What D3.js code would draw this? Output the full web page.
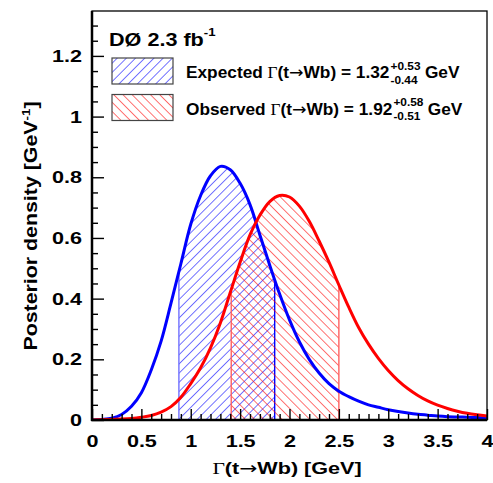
<!DOCTYPE html>
<html>
<head>
<meta charset="utf-8">
<script src="https://cdn.jsdelivr.net/npm/d3@7"></script>
<style>
  body { margin: 0; background: #fff; }
  text { font-family: "Liberation Sans", Arial, sans-serif; font-weight: bold; }
  .sym { font-family: "Liberation Serif", serif; font-weight: normal; }
  .arr { font-family: "DejaVu Sans", sans-serif; font-weight: normal; }
</style>
</head>
<body>
<svg id="chart" width="493" height="483"></svg>
<script>
// width values, GeV
const gammaGrid = [0, 0.1, 0.2, 0.3, 0.4, 0.5, 0.6, 0.7, 0.8, 0.9, 1.0,
  1.1, 1.2, 1.3, 1.4, 1.5, 1.6, 1.7, 1.8, 1.9, 2.0,
  2.1, 2.2, 2.3, 2.4, 2.5, 2.6, 2.7, 2.8, 2.9, 3.0,
  3.1, 3.2, 3.3, 3.4, 3.5, 3.6, 3.7, 3.8, 3.9, 4.0];
const expectedDensity = [0, 0.002, 0.006, 0.018, 0.045, 0.09, 0.165, 0.26, 0.385, 0.515, 0.645,
  0.74, 0.805, 0.836, 0.825, 0.78, 0.71, 0.61, 0.51, 0.415, 0.33,
  0.258, 0.2, 0.155, 0.12, 0.095, 0.077, 0.062, 0.05, 0.042, 0.034,
  0.028, 0.023, 0.019, 0.016, 0.013, 0.011, 0.01, 0.009, 0.008, 0.007];
const observedDensity = [0, 0.001, 0.002, 0.003, 0.005, 0.009, 0.015, 0.026, 0.044, 0.075, 0.12,
  0.172, 0.238, 0.32, 0.42, 0.52, 0.61, 0.675, 0.72, 0.74, 0.735,
  0.705, 0.655, 0.59, 0.52, 0.445, 0.372, 0.305, 0.25, 0.203, 0.163,
  0.13, 0.103, 0.081, 0.063, 0.049, 0.038, 0.029, 0.022, 0.017, 0.013];
const expectedBand = [0.88, 1.85];
const observedBand = [1.41, 2.50];
const xTicks = [0, 0.5, 1, 1.5, 2, 2.5, 3, 3.5, 4];
const yTicks = [0, 0.2, 0.4, 0.6, 0.8, 1, 1.2];
const legendRows = [
  { label: "Expected", value: "1.32", up: "+0.53", down: "-0.44" },
  { label: "Observed", value: "1.92", up: "+0.58", down: "-0.51" }
];

const svg = d3.select("#chart");
const pL = 92, pR = 487, pT = 11, pB = 420;
const stretch = 1.27; // text in the picture is drawn wider than the font

const x = d3.scaleLinear().domain([0, 4]).range([pL, pR]);
const y = d3.scaleLinear().domain([0, 1.348]).range([pB, pT]);

const defs = svg.append("defs");
function hatch(id, color, angle) {
  const p = defs.append("pattern")
    .attr("id", id)
    .attr("patternUnits", "userSpaceOnUse")
    .attr("width", 6.5).attr("height", 6.5)
    .attr("patternTransform", "rotate(" + angle + ")");
  p.append("line")
    .attr("x1", 0).attr("y1", -1).attr("x2", 0).attr("y2", 8)
    .attr("stroke", color).attr("stroke-width", 1.1);
}
hatch("hatchBlue", "#0000ff", 45);
hatch("hatchRed", "#ff0000", -45);

defs.append("clipPath").attr("id", "plotClip")
  .append("rect").attr("x", pL).attr("y", pT)
  .attr("width", pR - pL).attr("height", pB - pT);

const expData = gammaGrid.map((g, i) => [g, expectedDensity[i]]);
const obsData = gammaGrid.map((g, i) => [g, observedDensity[i]]);

const curve = d3.curveCatmullRom.alpha(0.5);
const area = d3.area()
  .x(d => x(d[0])).y0(y(0)).y1(d => y(d[1]))
  .curve(curve);
const line = d3.line()
  .x(d => x(d[0])).y(d => y(d[1]))
  .curve(curve);

const plot = svg.append("g").attr("clip-path", "url(#plotClip)");

function band(id, data, range, fillId, edgeColors) {
  defs.append("clipPath").attr("id", id)
    .append("rect")
    .attr("x", x(range[0])).attr("y", pT)
    .attr("width", x(range[1]) - x(range[0])).attr("height", pB - pT);
  defs.append("clipPath").attr("id", id + "Under")
    .append("path").attr("d", area(data));

  plot.append("path")
    .attr("d", area(data))
    .attr("fill", "url(#" + fillId + ")")
    .attr("clip-path", "url(#" + id + ")");
  plot.append("g").attr("clip-path", "url(#" + id + "Under)")
    .selectAll("line").data(range).join("line")
    .attr("x1", d => x(d)).attr("x2", d => x(d))
    .attr("y1", y(0)).attr("y2", pT)
    .attr("stroke", (d, i) => edgeColors[i]).attr("stroke-width", 1.4);
}
band("bandExp", expData, expectedBand, "hatchBlue", ["#7070ff", "#0000ff"]);
band("bandObs", obsData, observedBand, "hatchRed", ["#ff6060", "#ff6060"]);

plot.append("path").attr("d", line(expData))
  .attr("fill", "none").attr("stroke", "#0000ff").attr("stroke-width", 3);
plot.append("path").attr("d", line(obsData))
  .attr("fill", "none").attr("stroke", "#ff0000").attr("stroke-width", 3);

// frame
svg.append("rect")
  .attr("x", pL).attr("y", pT)
  .attr("width", pR - pL).attr("height", pB - pT)
  .attr("fill", "none").attr("stroke", "#000").attr("stroke-width", 1.3);

const fmt = d => String(+d.toFixed(1));

// x axis
const xAxis = svg.append("g").attr("transform", "translate(0," + pB + ")");
xAxis.call(d3.axisBottom(x).tickValues(xTicks).tickSizeInner(-11).tickSizeOuter(0)
  .tickPadding(15).tickFormat(fmt));
xAxis.append("g").call(d3.axisBottom(x)
  .tickValues(d3.range(0, 40).map(i => i / 10).filter(v => Math.round(v * 10) % 5 !== 0))
  .tickSizeInner(-6).tickSizeOuter(0).tickFormat(""));
xAxis.selectAll(".domain").remove();
xAxis.selectAll("line").attr("stroke-width", 1.4);
xAxis.selectAll("text").attr("font-size", 17).attr("fill", "#000")
  .attr("transform", "scale(" + stretch + ",1)");
xAxis.append("line").attr("x1", pL - 1).attr("x2", pR).attr("y1", 0).attr("y2", 0)
  .attr("stroke", "#000").attr("stroke-width", 2.5);

// y axis
const yAxis = svg.append("g").attr("transform", "translate(" + pL + ",0)");
yAxis.call(d3.axisLeft(y).tickValues(yTicks).tickSizeInner(-12).tickSizeOuter(0)
  .tickPadding(10 / stretch).tickFormat(fmt));
yAxis.append("g").call(d3.axisLeft(y)
  .tickValues(d3.range(1, 27).map(i => i * 0.05).filter(v => Math.round(v * 20) % 4 !== 0))
  .tickSizeInner(-6).tickSizeOuter(0).tickFormat(""));
yAxis.selectAll(".domain").remove();
yAxis.selectAll("line").attr("stroke-width", 1.4);
yAxis.selectAll("text").attr("font-size", 17).attr("fill", "#000")
  .attr("transform", "scale(" + stretch + ",1)");
yAxis.append("line").attr("x1", 0).attr("x2", 0).attr("y1", pT).attr("y2", pB + 1)
  .attr("stroke", "#000").attr("stroke-width", 2.5);

// axis titles
const xt = svg.append("text")
  .attr("transform", "translate(287,474) scale(" + stretch + ",1)")
  .attr("text-anchor", "middle").attr("font-size", 17);
xt.append("tspan").attr("class", "sym").text("Γ");
xt.append("tspan").text("(t");
xt.append("tspan").attr("class", "arr").text("→");
xt.append("tspan").text("Wb) [GeV]");

const yt = svg.append("text")
  .attr("transform", "translate(37,226) rotate(-90) scale(1.22,1)")
  .attr("text-anchor", "middle").attr("font-size", 17.5);
yt.append("tspan").text("Posterior density [GeV");
yt.append("tspan").attr("font-size", 11).attr("dy", -7).text("-1");
yt.append("tspan").attr("dy", 7).text("]");

// experiment label
const d0 = svg.append("text")
  .attr("transform", "translate(109,46) scale(1.2,1)").attr("font-size", 18);
d0.append("tspan").text("DØ 2.3 fb");
d0.append("tspan").attr("font-size", 11).attr("dy", -10).text("-1");

// legend
const legend = svg.append("g");
legendRows.forEach((r, i) => {
  const cy = 71 + i * 36.5;
  legend.append("rect")
    .attr("x", 112).attr("y", cy - 13).attr("width", 61).attr("height", 26)
    .attr("fill", "url(#" + (i === 0 ? "hatchBlue" : "hatchRed") + ")")
    .attr("stroke", "#444").attr("stroke-width", 1.2);
  const g = legend.append("g")
    .attr("transform", "translate(186," + (cy + 7) + ") scale(1.08,1)");
  const t = g.append("text").attr("font-size", 16);
  t.append("tspan").text(r.label + " ");
  t.append("tspan").attr("class", "sym").text("Γ");
  t.append("tspan").text("(t");
  t.append("tspan").attr("class", "arr").text("→");
  t.append("tspan").text("Wb) = " + r.value);
  const sx = t.node().getComputedTextLength() + 1;
  const up = g.append("text").attr("x", sx).attr("y", -8.5).attr("font-size", 11).text(r.up);
  const dn = g.append("text").attr("x", sx).attr("y", 5.5).attr("font-size", 11).text(r.down);
  const sw = Math.max(up.node().getComputedTextLength(), dn.node().getComputedTextLength());
  g.append("text").attr("x", sx + sw + 4).attr("font-size", 16).text("GeV");
});
</script>
</body>
</html>
